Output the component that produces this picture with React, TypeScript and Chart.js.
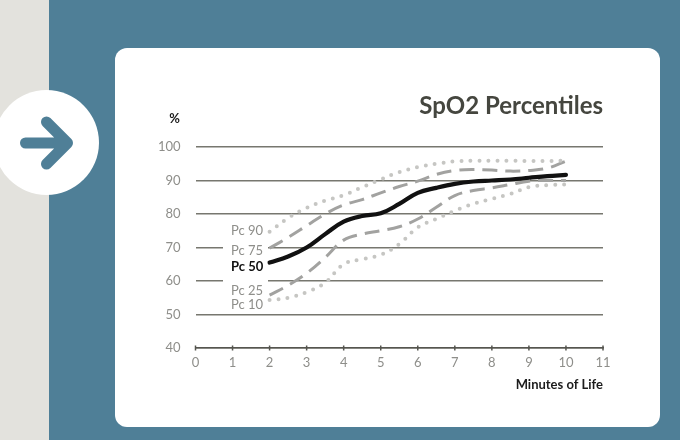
import React, { useEffect, useRef } from "react";
import { Chart, registerables } from "chart.js";

Chart.register(...registerables);

const minutes = [2, 2.5, 3, 3.5, 4, 4.5, 5, 5.5, 6, 6.5, 7, 7.5, 8, 8.5, 9, 9.5, 10];
const pc90 = [74.7, 78.8, 81.8, 84, 85.6, 88, 90.3, 92.5, 94, 95, 95.7, 95.9, 95.9, 95.9, 95.8, 95.8, 95.9];
const pc75 = [69.8, 73, 76.5, 80, 82.7, 84.3, 86.3, 88.2, 89.8, 91.8, 93, 93.3, 93.1, 92.8, 93, 93.7, 95.8];
const pc50 = [65.5, 67.3, 70, 74, 77.7, 79.4, 80.2, 83, 86.3, 87.8, 89, 89.7, 90, 90.3, 90.8, 91.3, 91.7];
const pc25 = [55.8, 58.7, 62.3, 67, 72.2, 74, 75, 76.2, 78.5, 82, 85.5, 87, 87.8, 88.8, 89.8, 90, 90];
const pc10 = [54.3, 55, 56.7, 59.5, 65, 66.5, 67.8, 71, 76, 78.5, 81, 83, 84.5, 86, 88, 88.6, 88.8];

const seriesNames = ["Pc 90", "Pc 75", "Pc 50", "Pc 25", "Pc 10"];
const labelValues = [74.9, 68.9, 64.2, 57, 52.8];

const FONT = "Lato, 'Open Sans', sans-serif";
const TEAL = "#4f7f97";
const GREY_TEXT = "#8e8e8a";
const GRID = "#77776f";
const DOT = "#c6c6c3";
const DASH = "#a2a2a0";

const toPoints = (values: number[]) => values.map((y, i) => ({ x: minutes[i], y }));

const annotations = {
  id: "annotations",
  beforeDatasetsDraw(chart: any) {
    const { ctx, scales } = chart;
    const { x, y } = scales;
    ctx.save();
    // white band that interrupts the grid behind the series labels
    ctx.fillStyle = "#ffffff";
    ctx.fillRect(223, y.getPixelForValue(72), 45, y.getPixelForValue(52) - y.getPixelForValue(72));
    // axis ticks crossing the baseline
    ctx.strokeStyle = "#55554f";
    ctx.lineWidth = 1.5;
    const base = y.getPixelForValue(40);
    x.ticks.forEach((t: any) => {
      const px = x.getPixelForValue(t.value);
      ctx.beginPath();
      ctx.moveTo(px, base - 2.5);
      ctx.lineTo(px, base + 2.5);
      ctx.stroke();
    });
    ctx.restore();
  },
  afterDatasetsDraw(chart: any) {
    const { ctx, scales } = chart;
    ctx.save();
    ctx.textBaseline = "middle";
    ctx.textAlign = "left";
    seriesNames.forEach((name, i) => {
      const bold = name === "Pc 50";
      ctx.font = `${bold ? "bold " : ""}13px ${FONT}`;
      ctx.fillStyle = bold ? "#111111" : GREY_TEXT;
      ctx.fillText(name, 231, scales.y.getPixelForValue(labelValues[i]));
    });
    ctx.font = `bold 13px ${FONT}`;
    ctx.fillStyle = "#1c1c1c";
    ctx.textAlign = "right";
    ctx.fillText("%", 180, 119);
    ctx.restore();
  },
};

export default function App() {
  const ref = useRef<HTMLCanvasElement>(null);
  useEffect(() => {
    if (!ref.current) return;
    const chart = new Chart(ref.current, {
      type: "line",
      data: {
        datasets: [
          { label: "Pc 90", data: toPoints(pc90), borderColor: DOT, borderWidth: 4, borderDash: [0, 9], borderCapStyle: "round" },
          { label: "Pc 75", data: toPoints(pc75), borderColor: DASH, borderWidth: 3, borderDash: [15, 8] },
          { label: "Pc 25", data: toPoints(pc25), borderColor: DASH, borderWidth: 3, borderDash: [15, 8] },
          { label: "Pc 10", data: toPoints(pc10), borderColor: DOT, borderWidth: 4, borderDash: [0, 9], borderCapStyle: "round" },
          { label: "Pc 50", data: toPoints(pc50), borderColor: "#111111", borderWidth: 4.2, borderCapStyle: "round" },
        ],
      },
      options: {
        responsive: false,
        animation: false,
        devicePixelRatio: 1,
        elements: { point: { radius: 0 }, line: { tension: 0.4 } },
        layout: { padding: { left: 130, right: 77, top: 92, bottom: 47 } },
        plugins: {
          legend: { display: false },
          tooltip: { enabled: false },
          title: {
            display: true,
            text: "SpO2 Percentiles",
            align: "end",
            fullSize: false,
            color: "#45463f",
            font: { family: FONT, size: 24, weight: "bold", lineHeight: 1.2 },
            padding: { top: 0, bottom: 26.2 },
          },
        },
        scales: {
          x: {
            type: "linear",
            min: 0,
            max: 11,
            border: { display: true, color: "#55554f", width: 1.5 },
            grid: { display: false, drawTicks: false },
            ticks: { stepSize: 1, color: GREY_TEXT, font: { family: FONT, size: 13 }, padding: 7, maxRotation: 0 },
            title: {
              display: true,
              text: "Minutes of Life",
              align: "end",
              color: "#1c1c1c",
              font: { family: FONT, size: 13, weight: "bold" },
              padding: { top: 5, bottom: 0 },
            },
            afterFit(scale: any) {
              scale.height = 45;
              scale.paddingLeft = 0;
              scale.paddingRight = 0;
            },
          },
          y: {
            min: 40,
            max: 100,
            border: { display: false },
            grid: { color: GRID, lineWidth: 1.5, drawTicks: false },
            ticks: { stepSize: 10, color: GREY_TEXT, font: { family: FONT, size: 13 }, padding: 15 },
            afterFit(scale: any) {
              scale.width = 65.5;
              scale.paddingTop = 0;
              scale.paddingBottom = 0;
            },
          },
        },
      },
      plugins: [annotations],
    } as any);
    return () => chart.destroy();
  }, []);

  return (
    <div style={{ position: "fixed", left: 0, top: 0, width: 680, height: 440, background: TEAL, overflow: "hidden" }}>
      <div style={{ position: "absolute", left: 0, top: 0, width: 49, height: 440, background: "#e3e2dd" }} />
      <div style={{ position: "absolute", left: 115, top: 48, width: 545, height: 379, background: "#fff", borderRadius: 12 }} />
      <div style={{ position: "absolute", left: -6, top: 90, width: 105, height: 105, background: "#fff", borderRadius: "50%" }} />
      <svg width={100} height={100} style={{ position: "absolute", left: 0, top: 93 }} viewBox="0 93 100 100">
        <path d="M25.5 143 H67 M46.5 122 L67.5 143 L46.5 164" fill="none" stroke={TEAL} strokeWidth={11} strokeLinecap="round" strokeLinejoin="round" />
      </svg>
      <canvas ref={ref} width={680} height={440} style={{ position: "absolute", left: 0, top: 0 }} />
    </div>
  );
}
